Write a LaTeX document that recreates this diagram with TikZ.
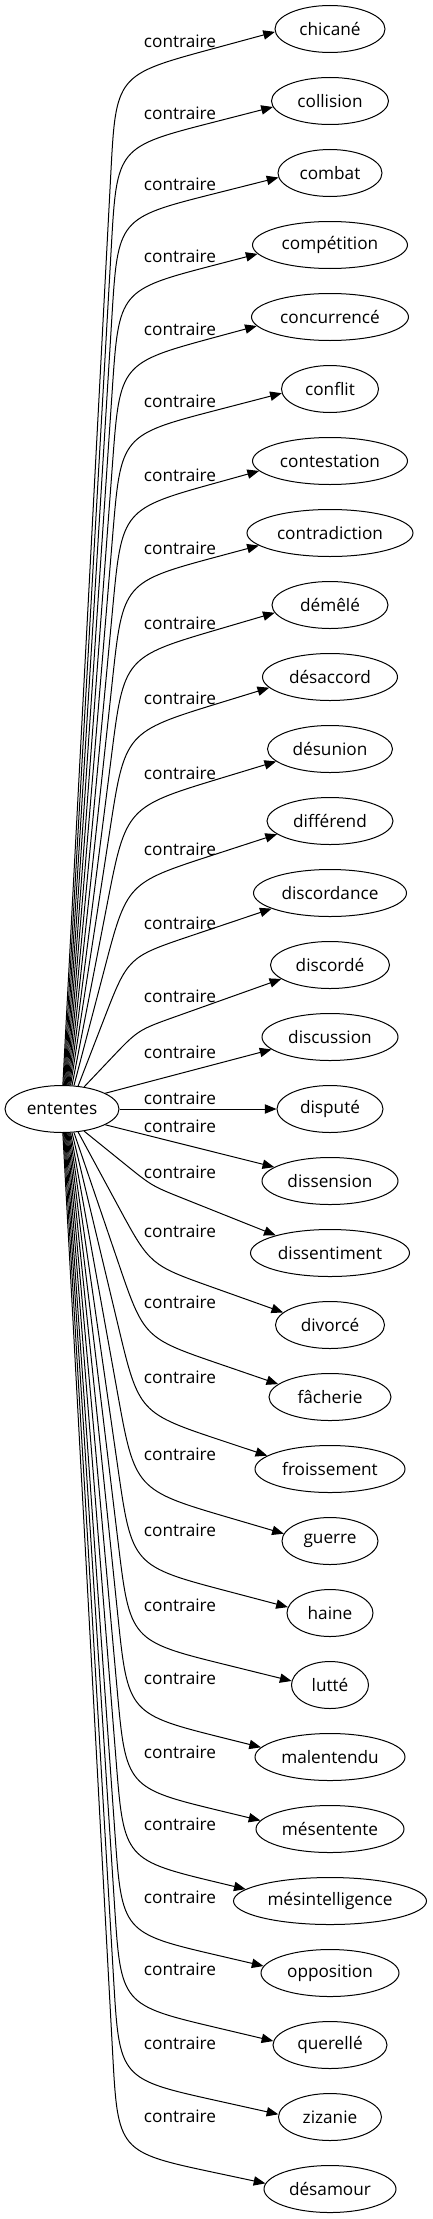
\documentclass[tikz,border=0pt]{standalone}
\usepackage{fontspec}
\setmainfont{Open Sans}
\usetikzlibrary{shapes.geometric,arrows.meta,calc}
\begin{document}
\begin{tikzpicture}[x=0.75pt,y=-0.75pt,
  every node/.style={font=\fontsize{12.9}{15}\selectfont},
  term/.style={draw, ellipse, line width=0.75pt, inner sep=0pt, minimum height=35.25pt},
  rel/.style={inner sep=0pt},
  link/.style={line width=0.75pt, -{Triangle[length=8.75pt,width=7pt]}}
]
\useasboundingbox (0,0) rectangle (432,2219);
\node[term, minimum width=85.5pt] (ent) at (62,1109) {ententes};
\foreach \i/\txt/\w in {
0/chicané/110, 1/collision/117, 2/combat/104, 3/compétition/155,
4/concurrencé/157, 5/conflit/97, 6/contestation/155, 7/contradiction/166,
8/démêlé/116, 9/désaccord/135, 10/désunion/125, 11/différend/126,
12/discordance/153, 13/discordé/119, 14/discussion/136, 15/disputé/106,
16/dissension/136, 17/dissentiment/159, 18/divorcé/109, 19/fâcherie/122,
20/froissement/150, 21/guerre/96, 22/haine/86, 23/lutté/77,
24/malentendu/150, 25/mésentente/148, 26/mésintelligence/193, 27/opposition/138,
28/querellé/114, 29/zizanie/103, 30/désamour/132} {
  \node[term, minimum width=\w*0.75pt] (n\i) at (330,29+72*\i) {\txt};
}
% curved connectors
\foreach \i/\yl/\a/\kx/\ko/\R/\th in {
0/41/88/116/34/75/183,
1/113/86/117/34/75/186,
2/184/84/118/34/75/185,
3/256/82/119/34/75/187,
4/329/80/120/34/75/187,
5/401/78/121/34/75/185,
6/475/76/122/34/75/188,
7/548/74/123/34/75/190,
8/623/72/124/34/75/188,
9/698/70/125/34/75/190,
10/773/67/126/34/75/193,
11/849/63/127/34/67/194,
12/923/55/128/34/50/195,
13/996/45/138/34/30/196,
17/1172/315/152/14/26/162,
18/1231/305/150/34/50/165,
19/1302/297/144/36/60/166,
20/1377/293/139/36/67/168,
21/1454/290/135/36/75/171,
22/1530/288/132/36/75/172,
23/1605/286/130/36/75/174,
24/1678/284/128/36/75/172,
25/1752/282/126/36/75/173,
26/1824/280/124/36/75/172,
27/1897/278/122/36/75/174,
28/1969/276/121/36/75/176,
29/2043/274/119.5/36/75/177,
30/2116/272/118/36/75/175} {
  \coordinate (K\i) at (\kx,\yl+\ko);
  \draw[link] (ent.\a) -- ($(K\i)!\R pt!(ent.\a)$) .. controls (K\i) .. ($(K\i)!\R pt!(n\i.\th)$) -- (n\i.\th);
  \node[rel] (l\i) at (180,\yl) {contraire};
}
% straight connectors
\draw[link] (ent.20) -- (n14.192);
\node[rel] (l14) at (180,1052) {contraire};
\draw[link] (ent.0) -- (n15.180);
\node[rel] (l15) at (180,1098) {contraire};
\draw[link] (ent.340) -- (n16.166);
\node[rel] (l16) at (180,1126) {contraire};
\end{tikzpicture}
\end{document}
